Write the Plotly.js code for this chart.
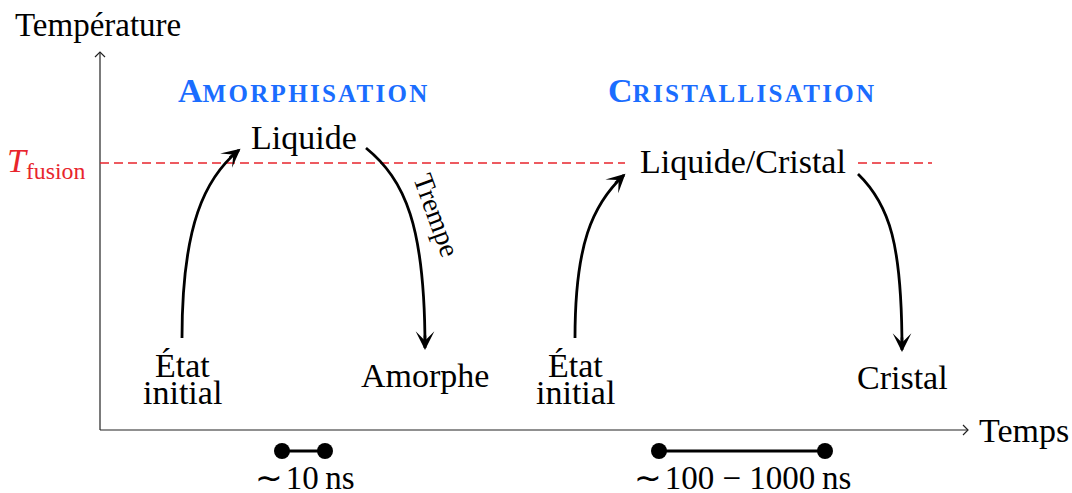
<!DOCTYPE html>
<html>
<head>
<meta charset="utf-8">
<script src="https://cdn.plot.ly/plotly-3.0.1.min.js"></script>
<style>html,body{margin:0;padding:0;background:#fff;}</style>
</head>
<body>
<div id="chart" style="width:1072px;height:493px;"></div>
<script>
// ---- Diagram data (x = time, y = temperature; origin at axes corner) ----
const axisEndX = 868;          // end of time axis
const axisEndY = 378;          // end of temperature axis
const axisLabels = ['Temps', 'Température'];
const tFusion = 267;           // T_fusion level
const dashStartX = [0, 758];
const dashEndX = [525, 832];

const phaseTitles = ['Amorphisation', 'Cristallisation'];
const phaseX = [204, 642];
const phaseY = [340, 340];

const nodeLabels = ['Liquide', 'Amorphe', 'Liquide/Cristal', 'Cristal', 'État', 'initial', 'État', 'initial'];
const nodeX = [204, 325, 643, 802, 82, 82, 475, 475];
const nodeY = [293, 55, 269, 53, 65, 38, 65, 38];

// cubic curves (heating / quench / heating / cooling)
const arcStartX = [82, 266, 475, 758];
const arcStartY = [92, 282, 92, 256];
const arcC1X = [82, 305, 475, 790];
const arcC1Y = [205, 250, 185, 225];
const arcC2X = [105, 325, 492, 802];
const arcC2Y = [252, 205, 225, 185];
const arcEndX = [139, 325, 524, 802];
const arcEndY = [280, 82, 255, 80];

const quenchLabel = 'Trempe';
const quenchX = 337;
const quenchY = 215;

const scaleStartX = [182, 559];
const scaleEndX = [225, 725];
const scaleY = -21;
const scaleLabels = ['\u223C\u200A10\u2009ns', '\u223C\u200A100 \u2212 1000\u2009ns'];
const scaleLabelX = [205, 642];
const scaleLabelY = -48;

// ---- Styles ----
const FONT = 'Liberation Serif, Times New Roman, serif';
const BLUE = '#1a6dff';
const RED = '#e8252c';

function smallCaps(s) {
  return '<b><span style="font-size:34px">' + s[0].toUpperCase() + '</span>' +
         '<span style="font-size:25px;letter-spacing:2.3px">' + s.slice(1).toUpperCase() + '</span></b>';
}

const traces = [];
const shapes = [];
const annotations = [];

// axes
shapes.push({type: 'line', xref: 'x', yref: 'y', x0: 0, y0: 0, x1: axisEndX, y1: 0, line: {color: '#222', width: 1.2}});
shapes.push({type: 'line', xref: 'x', yref: 'y', x0: 0, y0: 0, x1: 0, y1: axisEndY, line: {color: '#222', width: 1.2}});
// open arrow tips of axes
traces.push({x: [axisEndX - 5, axisEndX, axisEndX - 5], y: [5, 0, -5], mode: 'lines', line: {color: '#222', width: 1.2}, hoverinfo: 'skip'});
traces.push({x: [-5, 0, 5], y: [axisEndY - 5, axisEndY, axisEndY - 5], mode: 'lines', line: {color: '#222', width: 1.2}, hoverinfo: 'skip'});

annotations.push({x: axisEndX + 9, y: 0, xref: 'x', yref: 'y', text: axisLabels[0], showarrow: false,
  xanchor: 'left', yanchor: 'middle', font: {family: FONT, size: 34, color: '#000'}});
annotations.push({x: -2, y: 405, xref: 'x', yref: 'y', text: axisLabels[1], showarrow: false,
  xanchor: 'center', yanchor: 'middle', font: {family: FONT, size: 33, color: '#000'}});

// T fusion
for (let i = 0; i < dashStartX.length; i++) {
  shapes.push({type: 'line', xref: 'x', yref: 'y', x0: dashStartX[i], y0: tFusion, x1: dashEndX[i], y1: tFusion,
    line: {color: RED, width: 1.3, dash: '9px,5px'}});
}
annotations.push({x: -12, y: tFusion, xref: 'x', yref: 'y', text: '<i>T</i><sub>fusion</sub>', showarrow: false,
  xanchor: 'right', yanchor: 'middle', font: {family: FONT, size: 34, color: RED}});

// phase titles
for (let i = 0; i < phaseTitles.length; i++) {
  annotations.push({x: phaseX[i], y: phaseY[i], xref: 'x', yref: 'y', text: smallCaps(phaseTitles[i]), showarrow: false,
    xanchor: 'center', yanchor: 'middle', font: {family: FONT, size: 25, color: BLUE}});
}

// nodes
for (let i = 0; i < nodeLabels.length; i++) {
  annotations.push({x: nodeX[i], y: nodeY[i], xref: 'x', yref: 'y', text: nodeLabels[i], showarrow: false,
    xanchor: 'center', yanchor: 'middle', font: {family: FONT, size: 34, color: '#000'}});
}

// curved arrows
for (let i = 0; i < arcStartX.length; i++) {
  const path = 'M' + arcStartX[i] + ',' + arcStartY[i] +
    ' C' + arcC1X[i] + ',' + arcC1Y[i] + ' ' + arcC2X[i] + ',' + arcC2Y[i] + ' ' + arcEndX[i] + ',' + arcEndY[i];
  shapes.push({type: 'path', xref: 'x', yref: 'y', path: path, line: {color: '#000', width: 2.8}});
  const dx = arcEndX[i] - arcC2X[i], dy = arcEndY[i] - arcC2Y[i];
  const len = Math.sqrt(dx * dx + dy * dy);
  const ux = dx / len, uy = dy / len;
  annotations.push({x: arcEndX[i] + ux * 2, y: arcEndY[i] + uy * 2, ax: arcEndX[i] - ux * 14, ay: arcEndY[i] - uy * 14,
    xref: 'x', yref: 'y', axref: 'x', ayref: 'y', text: '', showarrow: true,
    arrowhead: 3, arrowsize: 1.2, arrowwidth: 2.6, arrowcolor: '#000', standoff: 0});
}

annotations.push({x: quenchX, y: quenchY, xref: 'x', yref: 'y', text: quenchLabel, showarrow: false, textangle: 70,
  xanchor: 'center', yanchor: 'middle', font: {family: FONT, size: 28, color: '#000'}});

// timescale bars
for (let i = 0; i < scaleStartX.length; i++) {
  traces.push({x: [scaleStartX[i], scaleEndX[i]], y: [scaleY, scaleY], mode: 'lines+markers',
    line: {color: '#000', width: 3}, marker: {color: '#000', size: 16}, hoverinfo: 'skip'});
  annotations.push({x: scaleLabelX[i], y: scaleLabelY, xref: 'x', yref: 'y', text: scaleLabels[i], showarrow: false,
    xanchor: 'center', yanchor: 'middle', font: {family: FONT, size: 33, color: '#000'}});
}

const layout = {
  width: 1072, height: 493,
  margin: {l: 0, r: 0, t: 0, b: 0, pad: 0},
  paper_bgcolor: '#fff', plot_bgcolor: '#fff',
  showlegend: false,
  xaxis: {range: [-100, 972], visible: false, fixedrange: true},
  yaxis: {range: [-63, 430], visible: false, fixedrange: true},
  shapes: shapes,
  annotations: annotations
};

Plotly.newPlot('chart', traces, layout, {displayModeBar: false, staticPlot: true});
</script>
</body>
</html>
